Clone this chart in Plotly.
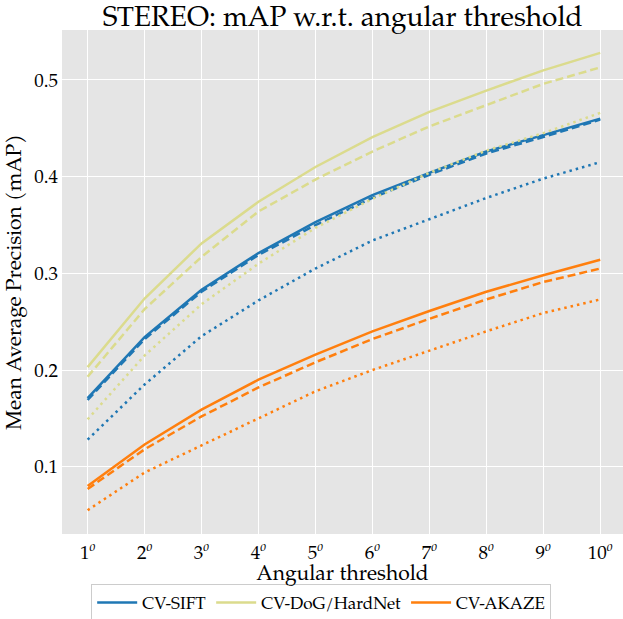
import plotly.graph_objects as go

thresholds = [1, 2, 3, 4, 5, 6, 7, 8, 9, 10]
tick_labels = [f"{t}<sup><i>o</i></sup>" for t in thresholds]

sift_solid = [0.171, 0.234, 0.283, 0.321, 0.353, 0.381, 0.404, 0.426, 0.443, 0.460]
sift_dash = [0.169, 0.232, 0.281, 0.319, 0.350, 0.378, 0.402, 0.424, 0.441, 0.459]
sift_dot = [0.128, 0.185, 0.235, 0.272, 0.305, 0.334, 0.356, 0.378, 0.398, 0.415]

dog_solid = [0.203, 0.274, 0.331, 0.374, 0.410, 0.441, 0.467, 0.489, 0.510, 0.528]
dog_dash = [0.193, 0.263, 0.317, 0.364, 0.397, 0.426, 0.452, 0.474, 0.496, 0.513]
dog_dot = [0.149, 0.215, 0.268, 0.310, 0.347, 0.377, 0.404, 0.427, 0.445, 0.466]

akaze_solid = [0.080, 0.123, 0.159, 0.190, 0.216, 0.240, 0.261, 0.281, 0.298, 0.314]
akaze_dash = [0.077, 0.118, 0.152, 0.182, 0.208, 0.232, 0.253, 0.273, 0.291, 0.305]
akaze_dot = [0.055, 0.094, 0.122, 0.150, 0.178, 0.200, 0.220, 0.240, 0.259, 0.273]

methods = [
    ("CV-SIFT", "#1f77b4", sift_solid, sift_dash, sift_dot),
    ("CV-DoG/HardNet", "#dbdb8d", dog_solid, dog_dash, dog_dot),
    ("CV-AKAZE", "#ff7f0e", akaze_solid, akaze_dash, akaze_dot),
]

FONT = "Palatino, 'TeX Gyre Pagella', 'Liberation Serif', serif"

fig = go.Figure()
for name, color, s, d, o in methods:
    fig.add_trace(go.Scatter(x=thresholds, y=s, mode="lines", name=name,
                             line=dict(color=color, width=2.5), showlegend=True))
    fig.add_trace(go.Scatter(x=thresholds, y=d, mode="lines", name=name + " dash",
                             line=dict(color=color, width=2.5, dash="8px,4px"), showlegend=False))
    fig.add_trace(go.Scatter(x=thresholds, y=o, mode="lines", name=name + " dot",
                             line=dict(color=color, width=2.5, dash="2.5px,4px"), showlegend=False))

fig.update_layout(
    width=623, height=619,
    margin=dict(l=62, r=0, t=30, b=85, autoexpand=False),
    paper_bgcolor="white",
    plot_bgcolor="#E5E5E5",
    font=dict(family=FONT, size=18, color="black"),
    title=dict(text="STEREO: mAP w.r.t. angular threshold", x=0.55, xanchor="center",
               y=0.99, yanchor="top", font=dict(size=28, family=FONT), automargin=False),
    xaxis=dict(range=[0.55, 10.4], tickvals=thresholds, ticktext=tick_labels,
               showgrid=True, gridcolor="white", gridwidth=1.2, zeroline=False,
               ticks="", showline=False, ticklabelstandoff=5, automargin=False,
               title=dict(text="Angular threshold", font=dict(size=21), standoff=0),
               tickfont=dict(size=19)),
    yaxis=dict(range=[0.0304, 0.5517], tickvals=[0.1, 0.2, 0.3, 0.4, 0.5],
               ticktext=["0.1", "0.2", "0.3", "0.4", "0.5"],
               showgrid=True, gridcolor="white", gridwidth=1.2, zeroline=False,
               ticks="", showline=False, ticklabelstandoff=3, automargin=False,
               title=dict(text="Mean Average Precision (mAP)", font=dict(size=21), standoff=6),
               tickfont=dict(size=19)),
    legend=dict(orientation="h", x=0.462, xanchor="center", y=-0.099, yanchor="top",
                bgcolor="white", bordercolor="#cccccc", borderwidth=1,
                font=dict(size=17), itemwidth=40),
)

fig.write_html("out.html")
